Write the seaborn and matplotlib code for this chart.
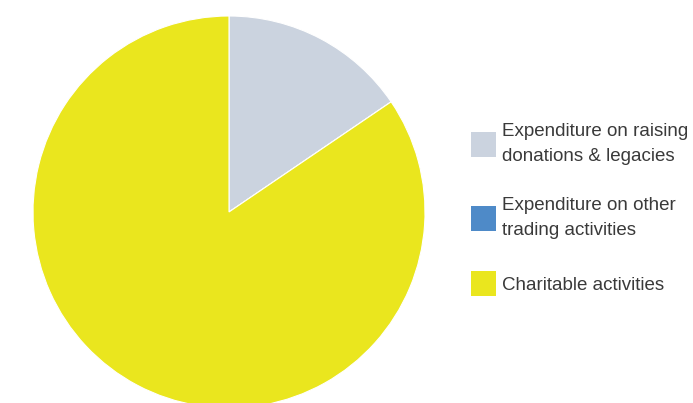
import matplotlib
matplotlib.use("Agg")
import matplotlib.pyplot as plt
import seaborn as sns
from matplotlib.patches import Patch

categories = ["Expenditure on raising\ndonations & legacies",
              "Expenditure on other\ntrading activities",
              "Charitable activities"]
values = [15.5, 0.0, 84.5]
colors = ["#CBD3DF", "#4E8AC8", "#EAE61E"]

sns.set_theme(style="white")
plt.rcParams['font.family'] = ['Liberation Sans', 'DejaVu Sans']

fig = plt.figure(figsize=(6.93, 4.03), dpi=100)
ax = fig.add_axes([(229 - 196) / 693, (403 - 212 - 196) / 403, 392 / 693, 392 / 403])
wedges, _ = ax.pie(values, colors=colors, startangle=90, counterclock=False,
                   wedgeprops=dict(linewidth=0.8, edgecolor="white"))
for w in wedges:
    w.set_clip_on(False)
ax.set_xlim(-1, 1)
ax.set_ylim(-1, 1)
ax.set_aspect("equal")
ax.axis("off")

fs = 13.5
fs_px = fs * 100 / 72
hh = (25 - 0.245 * fs_px) / (0.65 * fs_px)
handles = [Patch(facecolor=c, edgecolor="none") for c in colors]
leg = fig.legend(handles, categories, loc="upper left",
                 bbox_to_anchor=((471 - 0.4 * fs_px) / 693, 1 - 116 / 403),
                 frameon=False, fontsize=fs, handlelength=25 / fs_px, handleheight=hh,
                 handletextpad=0.3, labelspacing=1.75, borderaxespad=0, borderpad=0.4)
for t in leg.get_texts():
    t.set_color("#3a3a3a")
    t.set_linespacing(1.55)

fig.savefig("out.png", dpi=100)
